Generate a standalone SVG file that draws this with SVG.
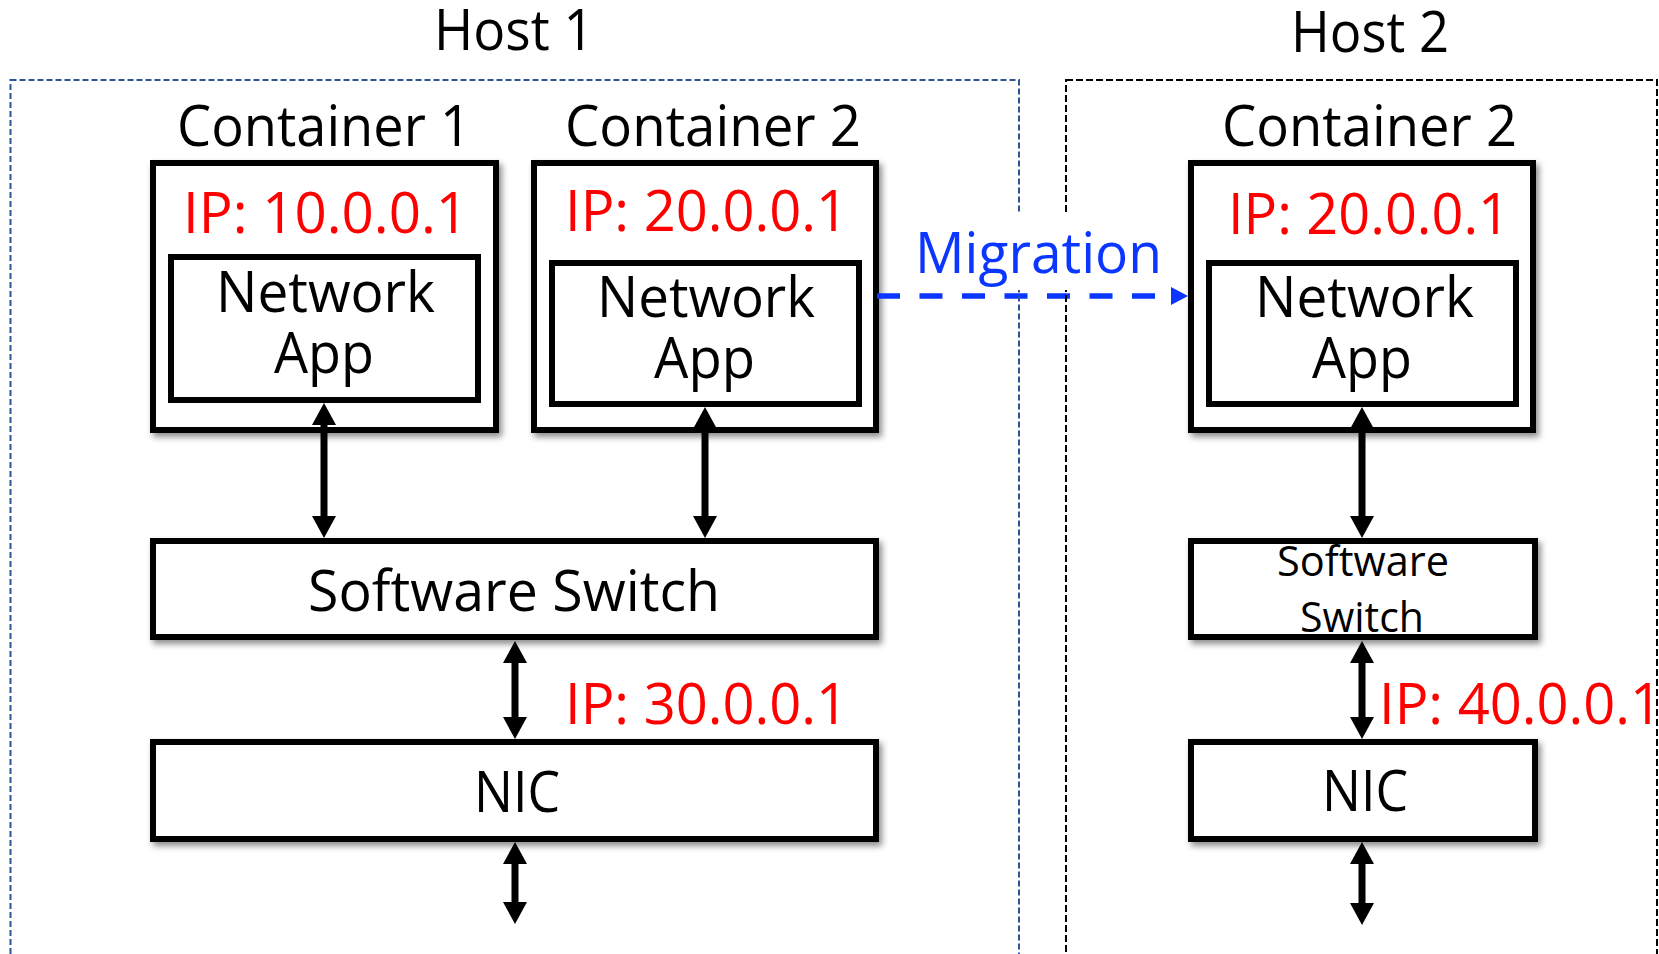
<svg xmlns="http://www.w3.org/2000/svg" width="1659" height="954" viewBox="0 0 1659 954">
  <style>
    text { font-family: "Open Sans", "Liberation Sans", Arial, sans-serif; fill: #000; }
    .lbl { font-size: 56px; }
    .small { font-size: 42px; }
    .ip { fill: #FF0000; }
    .mig { fill: #0A36FF; }
    .box { fill: #fff; stroke: #000; stroke-width: 6; }
    .shadowed { filter: url(#shadow); }
    .host1 { fill: none; stroke: #2F5597; stroke-width: 2; stroke-dasharray: 6 3; }
    .host2 { fill: none; stroke: #000; stroke-width: 2; stroke-dasharray: 7 3; }
    .link { stroke: #000; stroke-width: 7; marker-start: url(#head); marker-end: url(#head); }
    .migrate { stroke: #0A36FF; stroke-width: 5.5; stroke-dasharray: 23 19.5; marker-end: url(#bluehead); }
  </style>
  <defs>
    <filter id="shadow" x="-5%" y="-5%" width="115%" height="125%">
      <feDropShadow dx="3" dy="4" stdDeviation="3" flood-color="#000" flood-opacity="0.45"/>
    </filter>
    <marker id="head" markerUnits="userSpaceOnUse" markerWidth="22" markerHeight="24" refX="11" refY="12" orient="auto-start-reverse" overflow="visible">
      <path d="M0,0 L22,12 L0,24 z" fill="#000"/>
    </marker>
    <marker id="bluehead" markerUnits="userSpaceOnUse" markerWidth="17" markerHeight="18" refX="0" refY="9" orient="auto" overflow="visible">
      <path d="M0,0 L17,9 L0,18 z" fill="#0A36FF"/>
    </marker>
  </defs>

  <rect width="1659" height="954" fill="#fff"/>

  <!-- host titles -->
  <text class="lbl" x="434" y="50" textLength="160" lengthAdjust="spacingAndGlyphs">Host 1</text>
  <text class="lbl" x="1291" y="52" textLength="158" lengthAdjust="spacingAndGlyphs">Host 2</text>

  <!-- containers on host 1 -->
  <g id="container1">
    <text class="lbl" x="177" y="146" textLength="294" lengthAdjust="spacingAndGlyphs">Container 1</text>
    <rect class="box shadowed" x="153" y="163" width="343" height="267"/>
    <text class="lbl ip" x="183" y="233" textLength="285" lengthAdjust="spacingAndGlyphs">IP: 10.0.0.1</text>
    <g id="app1">
      <rect class="box" x="171" y="257" width="307" height="143"/>
      <text class="lbl" x="216" y="312" textLength="219" lengthAdjust="spacingAndGlyphs">Network</text>
      <text class="lbl" x="274" y="373" textLength="100" lengthAdjust="spacingAndGlyphs">App</text>
    </g>
  </g>

  <g id="container2-host1">
    <text class="lbl" x="565" y="146" textLength="296" lengthAdjust="spacingAndGlyphs">Container 2</text>
    <rect class="box shadowed" x="534" y="163" width="342" height="267"/>
    <text class="lbl ip" x="565" y="231" textLength="283" lengthAdjust="spacingAndGlyphs">IP: 20.0.0.1</text>
    <g id="app2-host1">
      <rect class="box" x="552" y="263" width="307" height="141"/>
      <text class="lbl" x="597" y="317" textLength="218" lengthAdjust="spacingAndGlyphs">Network</text>
      <text class="lbl" x="654" y="378" textLength="101" lengthAdjust="spacingAndGlyphs">App</text>
    </g>
  </g>

  <g id="switch1">
    <rect class="box shadowed" x="153" y="541" width="723" height="96"/>
    <text class="lbl" x="308" y="611" textLength="412" lengthAdjust="spacingAndGlyphs">Software Switch</text>
  </g>

  <g id="nic1">
    <rect class="box shadowed" x="153" y="742" width="723" height="97"/>
    <text class="lbl" x="474" y="812" textLength="86" lengthAdjust="spacingAndGlyphs">NIC</text>
  </g>

  <!-- container on host 2 -->
  <g id="container2-host2">
    <text class="lbl" x="1222" y="146" textLength="295" lengthAdjust="spacingAndGlyphs">Container 2</text>
    <rect class="box shadowed" x="1191" y="163" width="342" height="267"/>
    <text class="lbl ip" x="1228" y="234" textLength="282" lengthAdjust="spacingAndGlyphs">IP: 20.0.0.1</text>
    <g id="app2-host2">
      <rect class="box" x="1209" y="263" width="307" height="141"/>
      <text class="lbl" x="1255" y="317" textLength="219" lengthAdjust="spacingAndGlyphs">Network</text>
      <text class="lbl" x="1312" y="378" textLength="100" lengthAdjust="spacingAndGlyphs">App</text>
    </g>
  </g>

  <g id="switch2">
    <rect class="box shadowed" x="1191" y="541" width="344" height="96"/>
    <text class="small" x="1277" y="576" textLength="172" lengthAdjust="spacingAndGlyphs">Software</text>
    <text class="small" x="1300" y="632" textLength="124" lengthAdjust="spacingAndGlyphs">Switch</text>
  </g>

  <g id="nic2">
    <rect class="box shadowed" x="1191" y="742" width="344" height="97"/>
    <text class="lbl" x="1322" y="811" textLength="86" lengthAdjust="spacingAndGlyphs">NIC</text>
  </g>

  <!-- uplink addresses -->
  <text class="lbl ip" x="565" y="724" textLength="283" lengthAdjust="spacingAndGlyphs">IP: 30.0.0.1</text>
  <text class="lbl ip" x="1379" y="724" textLength="283" lengthAdjust="spacingAndGlyphs">IP: 40.0.0.1</text>

  <!-- connectors -->
  <g id="connectors">
    <line class="link" x1="324" y1="414" x2="324" y2="527"/>
    <line class="link" x1="705" y1="418" x2="705" y2="527"/>
    <line class="link" x1="515" y1="652" x2="515" y2="728"/>
    <line class="link" x1="515" y1="853" x2="515" y2="913"/>
    <line class="link" x1="1362" y1="418" x2="1362" y2="527"/>
    <line class="link" x1="1362" y1="652" x2="1362" y2="728"/>
    <line class="link" x1="1362" y1="853" x2="1362" y2="914"/>
    <line class="migrate" x1="877" y1="296" x2="1171" y2="296"/>
  </g>

  <!-- host boundaries -->
  <g id="host1">
    <rect class="host1" x="10.5" y="80" width="1008.5" height="900"/>
  </g>
  <g id="host2">
    <rect class="host2" x="1066" y="80" width="591" height="900"/>
  </g>

  <!-- migration label -->
  <g id="migration-label">
    <rect x="906" y="212" width="264" height="78" fill="#fff"/>
    <text class="lbl mig" x="915" y="273" textLength="247" lengthAdjust="spacingAndGlyphs">Migration</text>
  </g>
</svg>
